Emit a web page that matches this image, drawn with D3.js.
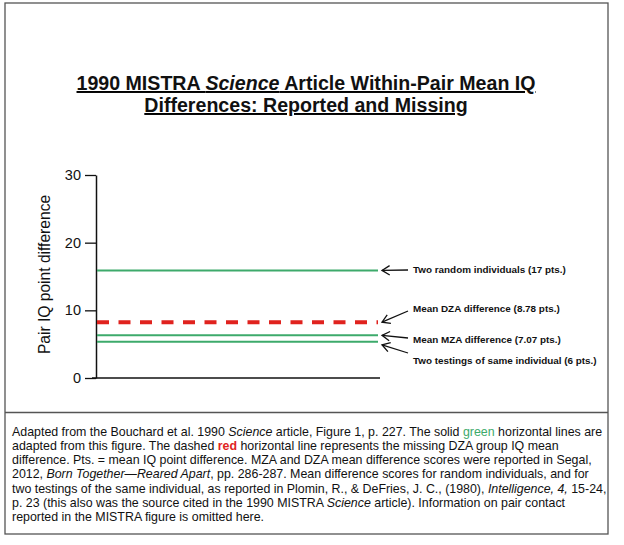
<!DOCTYPE html>
<html>
<head>
<meta charset="utf-8">
<script src="https://cdn.jsdelivr.net/npm/d3@7"></script>
<style>
  body { margin: 0; background: #fff; }
  svg { display: block; font-family: "Liberation Sans", Arial, sans-serif; }
</style>
</head>
<body>
<svg id="chart"></svg>
<script>
// values
const yTicks = [0, 10, 20, 30];
const lineNames = ["random", "dza", "mza", "retest"];
const lineValues = [15.9, 8.25, 6.3, 5.35];
const lineDashed = [false, true, false, false];
const lineLabels = [
    "Two random individuals (17 pts.)",
    "Mean DZA difference (8.78 pts.)",
    "Mean MZA difference (7.07 pts.)",
    "Two testings of same individual (6 pts.)"
];
const titleLines = [
    [["1990 MISTRA ", ""], ["Science", "i"], [" Article Within-Pair Mean IQ", ""]],
    [["Differences: Reported and Missing", ""]]
];
const noteLines = [
    [["Adapted from the Bouchard et al. 1990 ", ""], ["Science", "i"], [" article, Figure 1, p. 227. The solid ", ""], ["green", "g"], [" horizontal lines are", ""]],
    [["adapted from this figure. The dashed ", ""], ["red", "r"], [" horizontal line represents the missing DZA group IQ mean", ""]],
    [["difference. Pts. = mean IQ point difference. MZA and DZA mean difference scores were reported in Segal,", ""]],
    [["2012, ", ""], ["Born Together\u2014Reared Apart", "i"], [", pp. 286-287. Mean difference scores for random individuals, and for", ""]],
    [["two testings of the same individual, as reported in Plomin, R., & DeFries, J. C., (1980), ", ""], ["Intelligence, 4,", "i"], [" 15-24,", ""]],
    [["p. 23 (this also was the source cited in the 1990 MISTRA ", ""], ["Science", "i"], [" article). Information on pair contact", ""]],
    [["reported in the MISTRA figure is omitted here.", ""]]
];

const w = 624, h = 545;
const green = "#3daa6b", red = "#e0221e";

const svg = d3.select("#chart").attr("width", w).attr("height", h);

// frame + divider
svg.append("rect")
    .attr("x", 5).attr("y", 3).attr("width", 603).attr("height", 531)
    .attr("fill", "none").attr("stroke", "#555").attr("stroke-width", 1.3);
svg.append("line")
    .attr("x1", 5).attr("x2", 608).attr("y1", 412.5).attr("y2", 412.5)
    .attr("stroke", "#555").attr("stroke-width", 1.3);

// title
const styleSpan = (sel) => sel
    .attr("font-style", d => d[1] === "i" ? "italic" : null)
    .attr("font-weight", d => d[1] === "r" ? "bold" : null)
    .attr("fill", d => d[1] === "g" ? green : d[1] === "r" ? red : "#111")
    .text(d => d[0]);

titleLines.forEach((segs, i) => {
    svg.append("text")
        .attr("x", 306).attr("y", 90 + i * 22)
        .attr("text-anchor", "middle")
        .style("font-size", "19.6px")
        .style("font-weight", "bold")
        .style("text-decoration", "underline")
        .selectAll("tspan").data(segs).join("tspan")
        .call(styleSpan);
});

// scales
const y = d3.scaleLinear().domain([0, 30]).range([378, 175]);
const x = d3.scaleLinear().domain([0, 1]).range([96, 378]);

const plot = svg.append("g");

let yAxis = g => g
    .attr("transform", `translate(${x(0)},0)`)
    .call(d3.axisLeft(y).tickValues(yTicks).tickSize(11).tickPadding(4).tickSizeOuter(0))
    .call(g => g.select(".domain").attr("stroke", "#111").attr("stroke-width", 1.5))
    .call(g => g.selectAll(".tick line").attr("stroke", "#111").attr("stroke-width", 1.3))
    .call(g => g.selectAll(".tick text")
        .style("font-family", "'Liberation Sans', Arial, sans-serif")
        .style("font-size", "14.5px").attr("fill", "#111"));

plot.append("g").call(yAxis);

// baseline
plot.append("line")
    .attr("x1", x(0) - 4).attr("x2", x(1) + 2)
    .attr("y1", y(0)).attr("y2", y(0))
    .attr("stroke", "#111").attr("stroke-width", 1.5);

plot.append("text")
    .attr("transform", `translate(50,${(y(0) + y(30)) / 2 - 2}) rotate(-90)`)
    .attr("text-anchor", "middle")
    .style("font-size", "15.6px")
    .attr("fill", "#111")
    .text("Pair IQ point difference");

// reference lines
plot.append("g")
    .selectAll("line")
    .data(lineValues)
    .join("line")
    .attr("x1", x(0) + 1).attr("x2", x(1))
    .attr("y1", d => y(d)).attr("y2", d => y(d))
    .attr("stroke", (d, i) => lineDashed[i] ? red : green)
    .attr("stroke-width", (d, i) => lineDashed[i] ? 4 : 2)
    .attr("stroke-dasharray", (d, i) => lineDashed[i] ? "12,9.5" : null);

// labels + arrows
const labelY = [270, 309, 340, 361];
const tailDy = [0, 2, -2, -8];
const tipDy = [0, 0, 0, 3];
const labelX = 413;

const arrows = plot.append("g")
    .attr("fill", "none").attr("stroke", "#111").attr("stroke-width", 1.3);

lineValues.forEach((v, i) => {
    const tx = x(1) + 4, ty = y(v) + tipDy[i];
    const sx = labelX - 5, sy = labelY[i] + tailDy[i];
    const ang = Math.atan2(sy - ty, sx - tx);
    const L = 9, spread = 0.55;
    arrows.append("line")
        .attr("x1", sx).attr("y1", sy).attr("x2", tx).attr("y2", ty);
    arrows.append("path")
        .attr("d", `M${tx + L * Math.cos(ang - spread)},${ty + L * Math.sin(ang - spread)}L${tx},${ty}L${tx + L * Math.cos(ang + spread)},${ty + L * Math.sin(ang + spread)}`);
    plot.append("text")
        .attr("x", labelX).attr("y", labelY[i])
        .attr("dy", "0.35em")
        .style("font-size", "9.9px")
        .style("font-weight", "bold")
        .attr("fill", "#111")
        .text(lineLabels[i]);
});

// note text
noteLines.forEach((segs, i) => {
    svg.append("text")
        .attr("x", 12).attr("y", 431.5 + i * 14.2)
        .attr("dy", "0.35em")
        .style("font-size", "12.4px")
        .selectAll("tspan").data(segs).join("tspan")
        .call(styleSpan);
});
</script>
</body>
</html>
